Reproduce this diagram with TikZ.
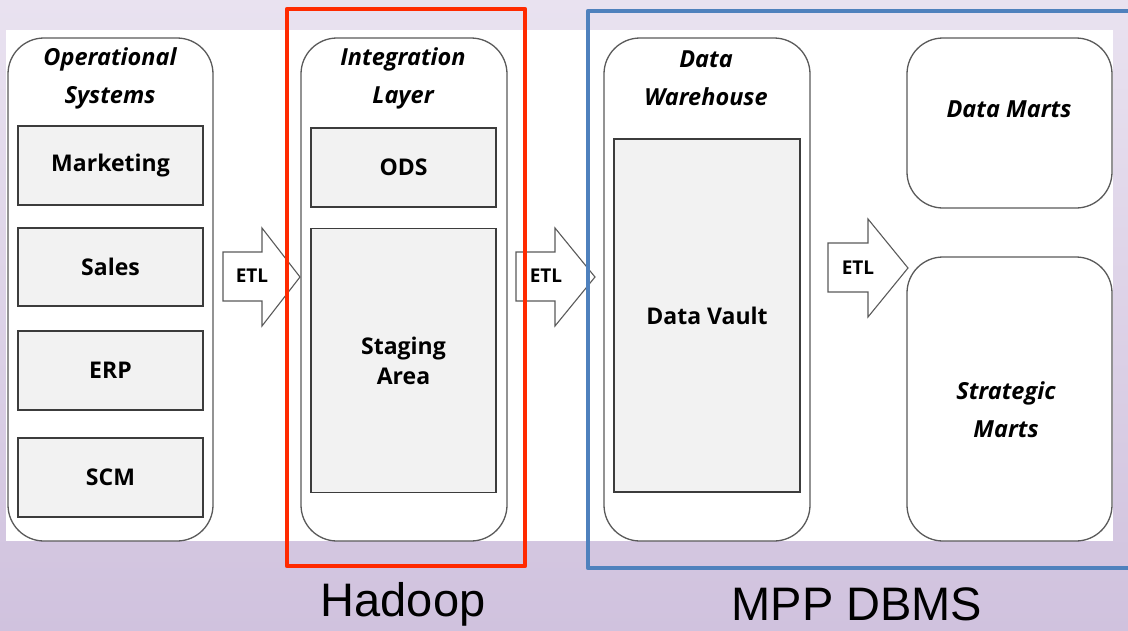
\documentclass[tikz,border=0pt]{standalone}
\usepackage{fontspec}
\setmainfont{Open Sans}
\newfontfamily\labelfont{Liberation Sans}
\definecolor{bgtop}{RGB}{233,226,240}
\definecolor{bgbot}{RGB}{208,194,222}
\definecolor{boxline}{RGB}{90,90,90}
\definecolor{innerfill}{RGB}{242,242,242}
\definecolor{innerline}{RGB}{60,60,60}
\definecolor{hadoopred}{RGB}{255,42,0}
\definecolor{mppblue}{RGB}{79,129,189}
\tikzset{
  outerbox/.style={draw=boxline, line width=1.3pt, fill=white, rounded corners=36pt, inner sep=0pt},
  innerbox/.style={draw=innerline, line width=1.4pt, fill=innerfill, inner sep=0pt,
    font=\bfseries\fontsize{23}{30}\selectfont, align=center},
  titletext/.style={font=\bfseries\itshape\fontsize{23.5}{38}\selectfont, align=center, inner sep=0pt},
  etlarrow/.style={draw=boxline, line width=1.1pt, fill=white, line join=miter},
  etltext/.style={font=\bfseries\fontsize{19}{22}\selectfont, inner sep=0pt},
  frame/.style={line width=4.5pt, line join=round},
  biglabel/.style={font=\labelfont\fontsize{47}{50}\selectfont, inner sep=0pt}
}
\begin{document}
\begin{tikzpicture}[x=1pt, y=-1pt]
\useasboundingbox (0,0) rectangle (1128,630);
% background
\fill[top color=bgtop, bottom color=bgbot] (0,0) rectangle (1128,630);
\fill[white] (6,30) rectangle (1113,541);

% outer columns
\node[outerbox, minimum width=205pt, minimum height=503pt] (ops) at (110.5,289.5) {};
\node[outerbox, minimum width=206pt, minimum height=503pt] (int) at (404,289.5) {};
\node[outerbox, minimum width=206pt, minimum height=503pt] (dw) at (707,289.5) {};
\node[outerbox, minimum width=205pt, minimum height=170pt] (dm) at (1009.5,123) {};
\node[outerbox, minimum width=205pt, minimum height=284pt] (sm) at (1009.5,399) {};

% titles
\node[titletext] (opsT) at (110,78.5) {Operational\\Systems};
\node[titletext] (intT) at (403,78.5) {Integration\\Layer};
\node[titletext] (dwT) at (706,78.5) {Data\\Warehouse};
\node[titletext] (dmT) at (1009,109) {Data Marts};
\node[titletext] (smT) at (1006,410) {Strategic\\Marts};

% inner boxes
\node[innerbox, minimum width=185pt, minimum height=79pt] (mkt) at (110.5,165.5) {Marketing};
\node[innerbox, minimum width=185pt, minimum height=78pt] (sales) at (110.5,267) {Sales};
\node[innerbox, minimum width=185pt, minimum height=79pt] (erp) at (110.5,370.5) {ERP};
\node[innerbox, minimum width=185pt, minimum height=79pt] (scm) at (110.5,477.5) {SCM};
\node[innerbox, minimum width=185pt, minimum height=79pt] (ods) at (403.5,167.5) {ODS};
\node[innerbox, minimum width=185pt, minimum height=264pt] (stg) at (403.5,360.5) {Staging\\Area};
\node[innerbox, minimum width=186pt, minimum height=353pt] (dv) at (707,315.5) {Data Vault};

% ETL arrows
\draw[etlarrow] (223,252) -- (262,252) -- (262,228) -- (300,277) -- (262,326) -- (262,301) -- (223,301) -- cycle;
\node[etltext] (etl1) at (252,276) {ETL};
\draw[etlarrow] (516,252) -- (555,252) -- (555,228) -- (595,277) -- (555,326) -- (555,301) -- (516,301) -- cycle;
\node[etltext] (etl2) at (546,276) {ETL};
\draw[etlarrow] (828,243) -- (868,243) -- (868,219) -- (908,268) -- (868,317) -- (868,292) -- (828,292) -- cycle;
\node[etltext] (etl3) at (858,268) {ETL};

% frames
\draw[frame, draw=hadoopred] (287,9) rectangle (525,566);
\draw[frame, draw=mppblue] (1135,11) -- (588,11) -- (588,568) -- (1135,568);

% labels
\node[biglabel] (hadoop) at (403,604) {Hadoop};
\node[biglabel] (mpp) at (857,604) {MPP DBMS};
\end{tikzpicture}
\end{document}
